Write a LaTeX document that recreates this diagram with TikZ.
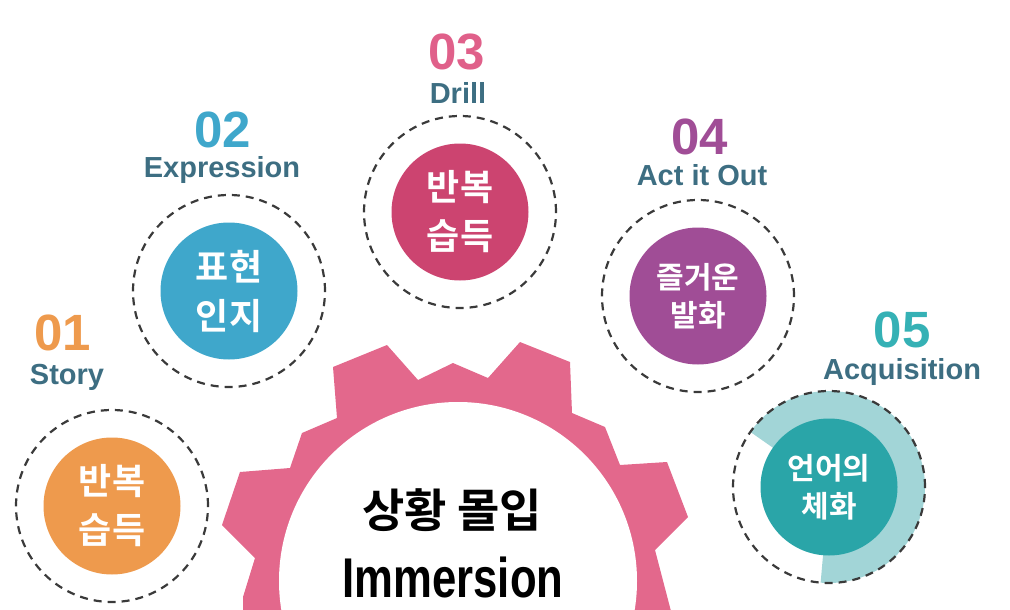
\documentclass[tikz,border=0pt]{standalone}
\usepackage{fontspec}
\setmainfont{Liberation Sans}
\newfontfamily\krfont{Noto Sans CJK KR}[BoldFont={Noto Sans CJK KR Bold}]
\usepackage{tikz}

\definecolor{gearpink}{HTML}{E3688C}
\definecolor{ringgray}{HTML}{3A3A3A}
\definecolor{labteal}{HTML}{3D6E82}
\definecolor{cOne}{HTML}{EE9A4D}
\definecolor{cTwo}{HTML}{3FA7CB}
\definecolor{cThree}{HTML}{CC4470}
\definecolor{nThree}{HTML}{E0608A}
\definecolor{cFour}{HTML}{A04D96}
\definecolor{cFive}{HTML}{2AA5A8}
\definecolor{nFive}{HTML}{35B1B5}
\definecolor{lightFive}{HTML}{A2D5D7}

\begin{document}
\begin{tikzpicture}[x=1pt,y=-1pt,
	dashring/.style={circle,draw=ringgray,dash pattern=on 8pt off 6pt,line width=2.2pt,minimum size=192pt,inner sep=0pt},
	ball/.style={circle,minimum size=137pt,inner sep=0pt,text=white,align=center,font=\krfont\bfseries\fontsize{36}{49}\selectfont},
	threechar/.style={font=\krfont\bfseries\fontsize{30}{38}\selectfont},
	numtxt/.style={font=\bfseries\fontsize{51}{51}\selectfont},
	engtxt/.style={text=labteal,font=\bfseries\fontsize{29}{29}\selectfont}] % 1pt = 1px
	\useasboundingbox (0,0) rectangle (1010,610);
	\clip (0,0) rectangle (1010,610);
	% gear
	\fill[gearpink] (243,615) -- (243,597) -- (255,558) -- (222,525) -- (240,472) -- (290,468) -- (302,433)
		-- (337,418) -- (333,367) -- (387,345) -- (418,380) -- (453,363) -- (488,378) -- (520,342)
		-- (570,362) -- (572,413) -- (605,427) -- (620,465) -- (667,462) -- (688,517) -- (655,550)
		-- (672,615) -- cycle;
	\fill[white] (458,581) circle[radius=179];
	\node[font=\krfont\bfseries\fontsize{46}{46}\selectfont] (T1) at (452,510) {상황 몰입};
	\node[font=\bfseries\fontsize{56}{56}\selectfont] (T2) at (453,577) {\scalebox{0.78}[1]{Immersion}};
	% 01
	\node[dashring] (R1) at (112,506) {};\node[ball,fill=cOne] (C1) at (112,506) {반복\\습득};
	\node[numtxt,text=cOne] (N1) at (63,333) {01};\node[engtxt] (L1) at (67,377) {Story};
	% 02
	\node[dashring] (R2) at (229,291) {};\node[ball,fill=cTwo] (C2) at (229,291) {표현\\인지};
	\node[numtxt,text=cTwo] (N2) at (223,130) {02};\node[engtxt] (L2) at (222,170) {Expression};
	% 03
	\node[dashring] (R3) at (460,212) {};\node[ball,fill=cThree] (C3) at (460,212) {반복\\습득};
	\node[numtxt,text=nThree] (N3) at (457,52) {03};\node[engtxt] (L3) at (458,93) {Drill};
	% 04
	\node[dashring] (R4) at (698,296) {};\node[ball,threechar,fill=cFour] (C4) at (698,296) {즐거운\\발화};
	\node[numtxt,text=cFour] (N4) at (700,137) {04};\node[engtxt] (L4) at (702,175) {Act it Out};
	% 05
	\fill[lightFive] (829,487) ++(-145:96) arc[start angle=-145,end angle=95,radius=96]
		-- ++(95:-28) arc[start angle=95,end angle=-145,radius=68] -- cycle;
	\node[dashring] (R5) at (829,487) {};\node[ball,threechar,fill=cFive] (C5) at (829,487) {언어의\\체화};
	\node[numtxt,text=nFive] (N5) at (902,330) {05};\node[engtxt] (L5) at (902,372) {Acquisition};
\end{tikzpicture}
\end{document}
